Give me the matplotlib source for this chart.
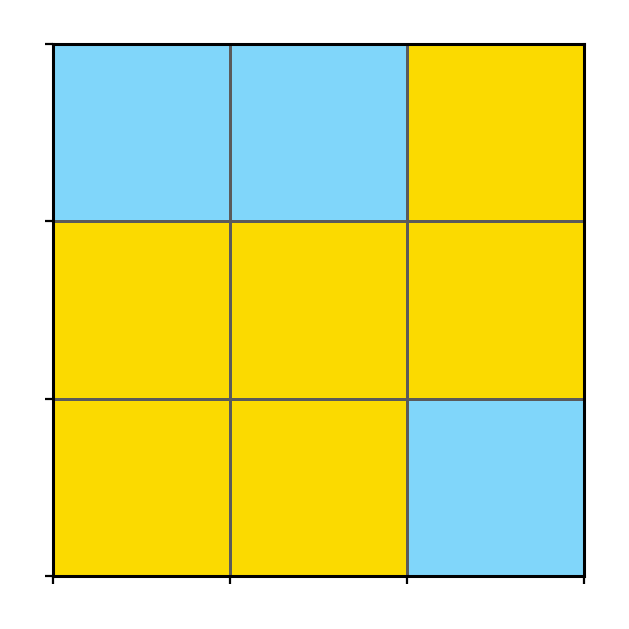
import matplotlib
matplotlib.use("Agg")
import matplotlib.pyplot as plt
import numpy as np
from matplotlib.colors import ListedColormap

# cell states, rows top to bottom (0 = blue, 1 = yellow)
row_top = [0, 0, 1]
row_mid = [1, 1, 1]
row_bot = [1, 1, 0]
cell_colors = ["#80D6FA", "#FBDA00"]

grid = np.array([row_top, row_mid, row_bot])

fig = plt.figure(figsize=(6.29, 6.29), dpi=100)
ax = fig.add_axes([53 / 629, 1 - 576 / 629, 531 / 629, 532 / 629])

ax.pcolormesh(np.arange(4), np.arange(4), grid[::-1],
              cmap=ListedColormap(cell_colors), vmin=0, vmax=1,
              edgecolors="#5a5a5a", linewidth=0.9)

ax.set_xlim(0, 3)
ax.set_ylim(0, 3)
ax.set_xticks(range(4))
ax.set_yticks(range(4))
ax.set_xticklabels([])
ax.set_yticklabels([])
ax.tick_params(direction="out", length=6, width=1.6, color="black")
for s in ax.spines.values():
    s.set_linewidth(2.2)
    s.set_color("black")

fig.savefig("out.png", dpi=100)
